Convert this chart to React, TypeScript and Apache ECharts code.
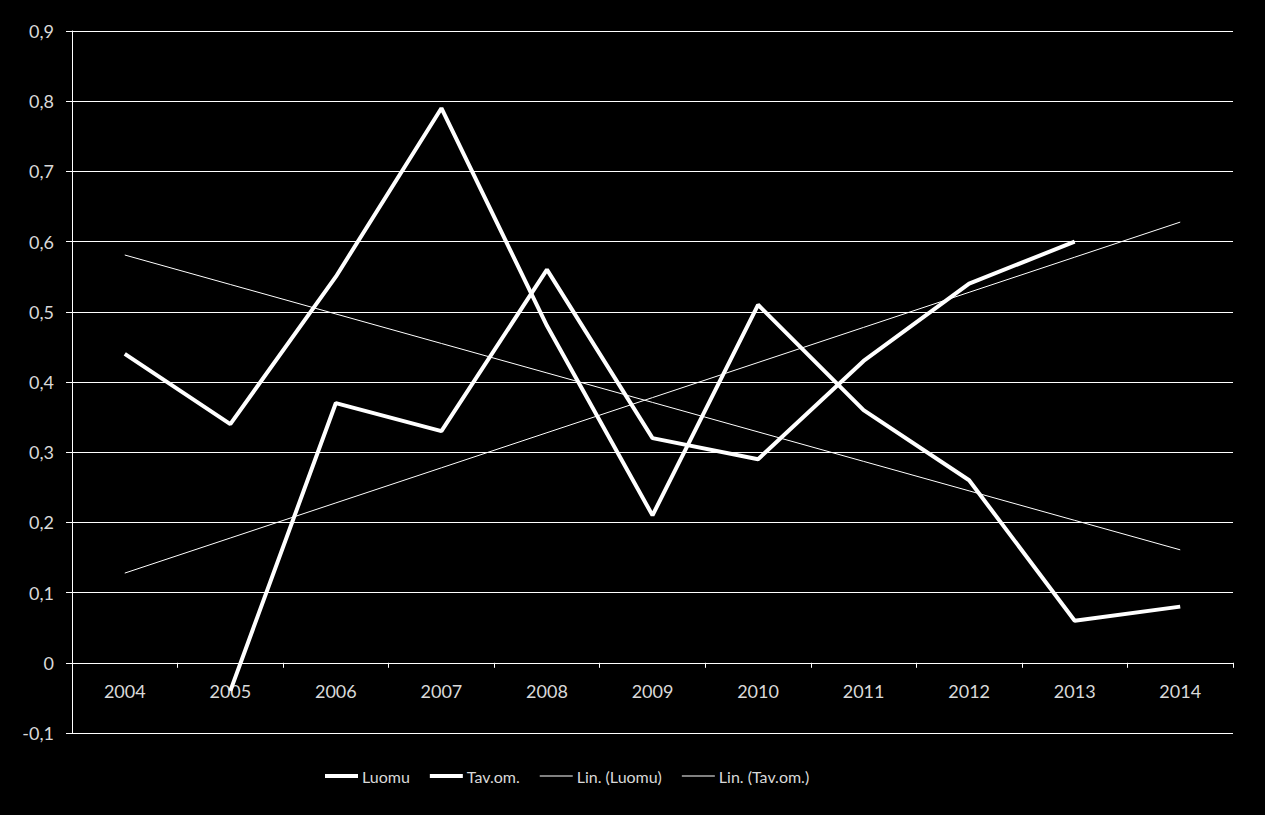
import React, { useEffect, useRef } from "react";
import * as echarts from "echarts";

const years = ["2004", "2005", "2006", "2007", "2008", "2009", "2010", "2011", "2012", "2013", "2014"];
const luomu: (number | null)[] = [0.44, 0.34, 0.55, 0.79, 0.48, 0.21, 0.51, 0.36, 0.26, 0.06, 0.08];
const tavom: (number | null)[] = [null, -0.04, 0.37, 0.33, 0.56, 0.32, 0.29, 0.43, 0.54, 0.6, null];
const seriesNames = ["Luomu", "Tav.om.", "Lin. (Luomu)", "Lin. (Tav.om.)"];

// Linear trend line (least squares) over category index, as Excel's "Lin." trendline
function trend(values: (number | null)[]): number[] {
  const pts: [number, number][] = [];
  values.forEach((v, i) => {
    if (v !== null) pts.push([i, v]);
  });
  const n = pts.length;
  const mx = pts.reduce((s, p) => s + p[0], 0) / n;
  const my = pts.reduce((s, p) => s + p[1], 0) / n;
  let sxy = 0;
  let sxx = 0;
  pts.forEach(([x, y]) => {
    sxy += (x - mx) * (y - my);
    sxx += (x - mx) * (x - mx);
  });
  const b = sxy / sxx;
  const a = my - b * mx;
  return values.map((_, i) => a + b * i);
}

const FONT = "Lato, 'Open Sans', sans-serif";
const TEXT = "#d9d9d9";

export default function App() {
  const ref = useRef<HTMLDivElement>(null);
  useEffect(() => {
    if (!ref.current) return;
    const chart = echarts.init(ref.current, undefined, { renderer: "svg" });
    const thickIcon = "path://M0,0H33V4H0Z";
    const thinIcon = "path://M0,0H33V1H0Z";
    chart.setOption({
      animation: false,
      backgroundColor: "#000000",
      grid: { left: 72, right: 32, top: 31, bottom: 82, containLabel: false },
      legend: {
        left: 320,
        top: 763,
        itemWidth: 33,
        itemHeight: 14,
        itemGap: 20,
        itemStyle: { borderWidth: 0 },
        textStyle: { color: TEXT, fontFamily: FONT, fontSize: 16, padding: [0, 0, 0, -1] },
        data: [
          { name: seriesNames[0], icon: thickIcon },
          { name: seriesNames[1], icon: thickIcon },
          { name: seriesNames[2], icon: thinIcon },
          { name: seriesNames[3], icon: thinIcon },
        ],
      },
      xAxis: {
        type: "category",
        data: years,
        boundaryGap: true,
        axisLine: { onZero: true, lineStyle: { color: "#ffffff", width: 1 } },
        axisTick: { show: true, length: 5, lineStyle: { color: "#ffffff" } },
        axisLabel: { color: TEXT, fontFamily: FONT, fontSize: 18, margin: -51 },
        splitLine: { show: false },
      },
      yAxis: {
        type: "value",
        min: -0.1,
        max: 0.9,
        interval: 0.1,
        axisLine: { show: true, lineStyle: { color: "#ffffff", width: 1 } },
        axisTick: { show: true, length: 6, lineStyle: { color: "#ffffff" } },
        axisLabel: {
          color: TEXT,
          fontFamily: FONT,
          fontSize: 18,
          margin: 18,
          formatter: (v: number) => {
            const r = Math.round(v * 10) / 10;
            if (r === 0) return "0";
            return String(r).replace(".", ",");
          },
        },
        splitLine: { show: true, lineStyle: { color: "#ffffff", width: 1 } },
      },
      series: [
        {
          name: seriesNames[2],
          type: "line",
          data: trend(luomu),
          symbol: "none",
          color: "#ffffff",
          lineStyle: { color: "#ffffff", width: 1 },
          z: 2,
        },
        {
          name: seriesNames[3],
          type: "line",
          data: trend(tavom),
          symbol: "none",
          color: "#ffffff",
          lineStyle: { color: "#ffffff", width: 1 },
          z: 2,
        },
        {
          name: seriesNames[0],
          type: "line",
          data: luomu,
          symbol: "none",
          color: "#ffffff",
          lineStyle: { color: "#ffffff", width: 4 },
          z: 3,
        },
        {
          name: seriesNames[1],
          type: "line",
          data: tavom,
          symbol: "none",
          color: "#ffffff",
          lineStyle: { color: "#ffffff", width: 4 },
          z: 3,
        },
      ],
    });
    return () => chart.dispose();
  }, []);
  return (
    <div
      ref={ref}
      style={{ position: "fixed", left: 0, top: 0, width: 1265, height: 815, background: "#000" }}
    />
  );
}
